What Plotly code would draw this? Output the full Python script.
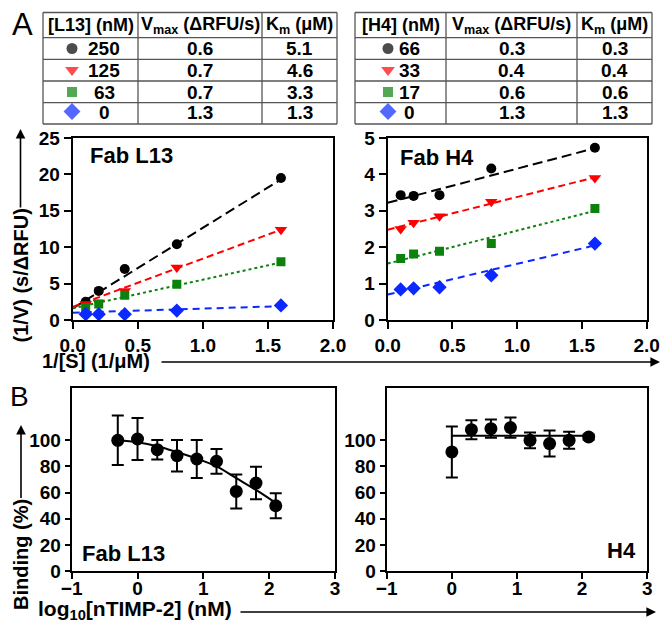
import plotly.graph_objects as go

W, H = 662, 623
FONT = "Liberation Sans, Arial, sans-serif"

def px(x):
    return x / W

def py(y):
    return 1 - y / H

# ---------------- data ----------------
conc_x = [0.1, 0.2, 0.4, 0.8, 1.6]          # 1/[S] (1/uM)
fit_x = [0.0, 1.6]

l13_conc = ["250", "125", "63", "0"]
l13_vmax = ["0.6", "0.7", "0.7", "1.3"]
l13_km = ["5.1", "4.6", "3.3", "1.3"]
h4_conc = ["66", "33", "17", "0"]
h4_vmax = ["0.3", "0.4", "0.6", "1.3"]
h4_km = ["0.3", "0.4", "0.6", "1.3"]

l13_black = [2.5, 4.0, 7.0, 10.4, 19.5]
l13_red = [2.2, 2.4, 4.0, 7.2, 12.4]
l13_green = [1.7, 2.2, 3.4, 4.9, 8.0]
l13_blue = [0.8, 0.8, 0.8, 1.3, 2.0]
l13_fit_black = [1.6, 19.3]
l13_fit_red = [1.8, 12.4]
l13_fit_green = [1.6, 7.9]
l13_fit_blue = [1.0, 1.9]

h4_black = [3.43, 3.41, 3.43, 4.16, 4.73]
h4_red = [2.5, 2.67, 2.85, 3.25, 3.9]
h4_green = [1.69, 1.81, 1.89, 2.1, 3.06]
h4_blue = [0.84, 0.87, 0.9, 1.23, 2.1]
h4_fit_black = [3.22, 4.72]
h4_fit_red = [2.48, 3.92]
h4_fit_green = [1.55, 3.0]
h4_fit_blue = [0.7, 2.05]

b_x_l13 = [-0.3, 0.0, 0.3, 0.6, 0.9, 1.2, 1.5, 1.8, 2.1]
b_y_l13 = [100, 101, 92.8, 88.2, 85.7, 83.9, 60.9, 67.3, 49.9]
b_err_l13 = [19, 16, 7.5, 12, 14.5, 9.5, 13, 12.5, 9.5]
b_fit_l13 = [100, 98.5, 95.5, 91, 86, 80, 71, 62, 52]

b_x_h4 = [0.0, 0.3, 0.6, 0.9, 1.2, 1.5, 1.8, 2.1]
b_y_h4 = [91.1, 108.1, 108.9, 109.7, 100, 97.5, 100, 102.5]
b_err_h4 = [19.5, 7.3, 7, 7.7, 6, 10, 6.5, 2]
b_fit_h4_x = [0.0, 2.1]
b_fit_h4_y = [103.5, 103.5]

colors = ["black", "#ff0000", "#0c820c", "#0a28ff"]
symbols = ["circle", "triangle-down", "square", "diamond"]
msizes = [10, 11, 9, 11]
dashes = ["10px,5px", "7px,4px", "3px,3px", "7px,5px"]

fig = go.Figure()

# ---------------- panel A ----------------
for axn, series, fits in [
    ("", [l13_black, l13_red, l13_green, l13_blue],
     [l13_fit_black, l13_fit_red, l13_fit_green, l13_fit_blue]),
    ("2", [h4_black, h4_red, h4_green, h4_blue],
     [h4_fit_black, h4_fit_red, h4_fit_green, h4_fit_blue]),
]:
    for i in range(4):
        fig.add_trace(go.Scatter(
            x=fit_x, y=fits[i], mode="lines",
            line=dict(color=colors[i], width=2, dash=dashes[i]),
            xaxis="x" + axn, yaxis="y" + axn, showlegend=False, hoverinfo="skip"))
    for i in range(4):
        fig.add_trace(go.Scatter(
            x=conc_x, y=series[i], mode="markers",
            marker=dict(color=colors[i], symbol=symbols[i], size=msizes[i],
                        line=dict(width=0)),
            xaxis="x" + axn, yaxis="y" + axn, showlegend=False))

# ---------------- panel B ----------------
fig.add_trace(go.Scatter(x=b_x_l13, y=b_fit_l13, mode="lines",
                         line=dict(color="black", width=2, shape="spline"),
                         xaxis="x3", yaxis="y3", showlegend=False))
fig.add_trace(go.Scatter(x=b_x_l13, y=b_y_l13, mode="markers",
                         marker=dict(color="black", size=13),
                         error_y=dict(type="data", array=b_err_l13, color="black",
                                      thickness=2, width=6),
                         xaxis="x3", yaxis="y3", showlegend=False))
fig.add_trace(go.Scatter(x=b_fit_h4_x, y=b_fit_h4_y, mode="lines",
                         line=dict(color="black", width=2),
                         xaxis="x4", yaxis="y4", showlegend=False))
fig.add_trace(go.Scatter(x=b_x_h4, y=b_y_h4, mode="markers",
                         marker=dict(color="black", size=13),
                         error_y=dict(type="data", array=b_err_h4, color="black",
                                      thickness=2, width=6),
                         xaxis="x4", yaxis="y4", showlegend=False))

# ---------------- tables ----------------
ROW_Y = [48.5, 70, 92, 113]
HEAD_Y = 25
tables = [
    dict(cols=[43, 138, 262, 337], conc=l13_conc, vmax=l13_vmax, km=l13_km,
         head="[L13] (nM)", mark_x=72, num_x=104),
    dict(cols=[355, 446, 577, 652], conc=h4_conc, vmax=h4_vmax, km=h4_km,
         head="[H4] (nM)", mark_x=388, num_x=410),
]
HLINES = [12.5, 37.7, 59.3, 81, 102.7, 124]

shapes = []
annotations = []
for t in tables:
    c = t["cols"]
    for xv in c:
        shapes.append(dict(type="line", xref="paper", yref="paper",
                           x0=px(xv), x1=px(xv), y0=py(HLINES[0]), y1=py(HLINES[-1]),
                           line=dict(color="#555555", width=1.3)))
    for yv in HLINES:
        shapes.append(dict(type="line", xref="paper", yref="paper",
                           x0=px(c[0]), x1=px(c[-1]), y0=py(yv), y1=py(yv),
                           line=dict(color="#555555", width=1.3)))
    heads = [t["head"], "V<sub>max</sub> (ΔRFU/s)", "K<sub>m</sub> (μM)"]
    for j in range(3):
        annotations.append(dict(x=px((c[j] + c[j + 1]) / 2), y=py(HEAD_Y),
                                xref="paper", yref="paper", text="<b>%s</b>" % heads[j],
                                showarrow=False, xanchor="center", yanchor="middle",
                                font=dict(size=18, family=FONT, color="black")))
    for r in range(4):
        for xx, val in [(t["num_x"], t["conc"][r]),
                        ((c[1] + c[2]) / 2, t["vmax"][r]),
                        ((c[2] + c[3]) / 2, t["km"][r])]:
            annotations.append(dict(x=px(xx), y=py(ROW_Y[r]), xref="paper", yref="paper",
                                    text="<b>%s</b>" % val, showarrow=False,
                                    xanchor="center", yanchor="middle",
                                    font=dict(size=19, family=FONT, color="black")))
    fig.add_trace(go.Scatter(
        x=[t["mark_x"]] * 4, y=[r - 1.5 if i == 3 else r for i, r in enumerate(ROW_Y)],
        mode="markers",
        marker=dict(color=colors, symbol=symbols, size=[11, 12, 10, 13], line=dict(width=0)),
        xaxis="x5", yaxis="y5", showlegend=False, hoverinfo="skip"))

# ---------------- labels & arrows ----------------
def txt(x, y, s, size=20, bold=True, angle=0, xanchor="center", family=FONT):
    annotations.append(dict(x=px(x), y=py(y), xref="paper", yref="paper",
                            text=("<b>%s</b>" % s) if bold else s, showarrow=False,
                            textangle=angle, xanchor=xanchor, yanchor="middle",
                            font=dict(size=size, family=family, color="black")))

def arrow_h(x0, x1, y):
    annotations.append(dict(x=x1, y=y, xref="x5", yref="y5", ax=x0, ay=y,
                            axref="x5", ayref="y5", text="", showarrow=True,
                            arrowhead=2, arrowsize=1.2, arrowwidth=1.6,
                            arrowcolor="black", standoff=0, startstandoff=0))

def vtitle_arrow(x, y_center, y_tip, s):
    # rotated axis title whose own annotation arrow runs up from the text to the tip
    annotations.append(dict(x=px(x), y=py(y_tip), xref="paper", yref="paper",
                            ax=0, ay=y_center - y_tip, text="<b>%s</b>" % s,
                            textangle=-90, showarrow=True, arrowhead=2, arrowsize=1.2,
                            arrowwidth=1.6, arrowcolor="black", standoff=0,
                            startstandoff=0,
                            font=dict(size=20, family=FONT, color="black")))

txt(22, 24, "A", size=31, bold=False)
txt(19, 396, "B", size=28, bold=False)
txt(88, 155, "Fab L13", size=22, xanchor="left")
txt(398, 157, "Fab H4", size=22, xanchor="left")
txt(80, 553, "Fab L13", size=22, xanchor="left")
txt(638, 550, "H4", size=22, xanchor="right")

vtitle_arrow(20.5, 276, 129, "(1/V) (s/ΔRFU)")
txt(95.5, 361, "1/[S] (1/μM)", size=20)
arrow_h(160, 660, 362)
vtitle_arrow(21, 555, 425, "Binding (%)")
txt(135, 610, "log<sub>10</sub>[nTIMP-2] (nM)", size=21)
arrow_h(239, 656, 612)

# ---------------- axes ----------------
def ax_style(**kw):
    d = dict(showline=True, mirror=True, linecolor="black", linewidth=2,
             ticks="outside", ticklen=7, tickwidth=2, tickcolor="black",
             showgrid=False, zeroline=False, automargin=False,
             tickfont=dict(size=19, family=FONT, color="black", weight="bold"))
    d.update(kw)
    return d

ya = [py(320), py(138)]
yb = [py(571), py(388)]
fig.update_layout(
    width=W, height=H, margin=dict(l=0, r=0, t=0, b=0, pad=0, autoexpand=False),
    paper_bgcolor="white", plot_bgcolor="rgba(0,0,0,0)",
    font=dict(family=FONT, color="black"),
    xaxis=ax_style(domain=[px(72.7), px(333)], range=[0, 2], dtick=0.5, tick0=0,
                   tickformat=".1f", anchor="y"),
    yaxis=ax_style(domain=ya, range=[0, 25], dtick=5, anchor="x"),
    xaxis2=ax_style(domain=[px(387.7), px(646.7)], range=[0, 2], dtick=0.5, tick0=0,
                    tickformat=".1f", anchor="y2"),
    yaxis2=ax_style(domain=ya, range=[0, 5], dtick=1, anchor="x2"),
    xaxis3=ax_style(domain=[px(71.7), px(335)], range=[-1, 3], dtick=1, anchor="y3",
                    ticklen=6, ticklabelstandoff=-7),
    yaxis3=ax_style(domain=yb, range=[0, 140], tickvals=[0, 20, 40, 60, 80, 100], anchor="x3",
                    ticklen=5),
    xaxis4=ax_style(domain=[px(386.7), px(647.3)], range=[-1, 3], dtick=1, anchor="y4",
                    ticklen=6, ticklabelstandoff=-7),
    yaxis4=ax_style(domain=yb, range=[0, 140], tickvals=[0, 20, 40, 60, 80, 100], anchor="x4",
                    ticklen=5),
    xaxis5=dict(domain=[0, 1], range=[0, W], visible=False, fixedrange=True, anchor="y5"),
    yaxis5=dict(domain=[0, 1], range=[H, 0], visible=False, fixedrange=True, anchor="x5"),
    shapes=shapes, annotations=annotations,
)

fig.write_html(
    "out.html",
    config={"displayModeBar": False},
    post_script="document.body.style.margin='0';document.body.style.padding='0';"
                "document.documentElement.style.overflow='hidden';",
)
